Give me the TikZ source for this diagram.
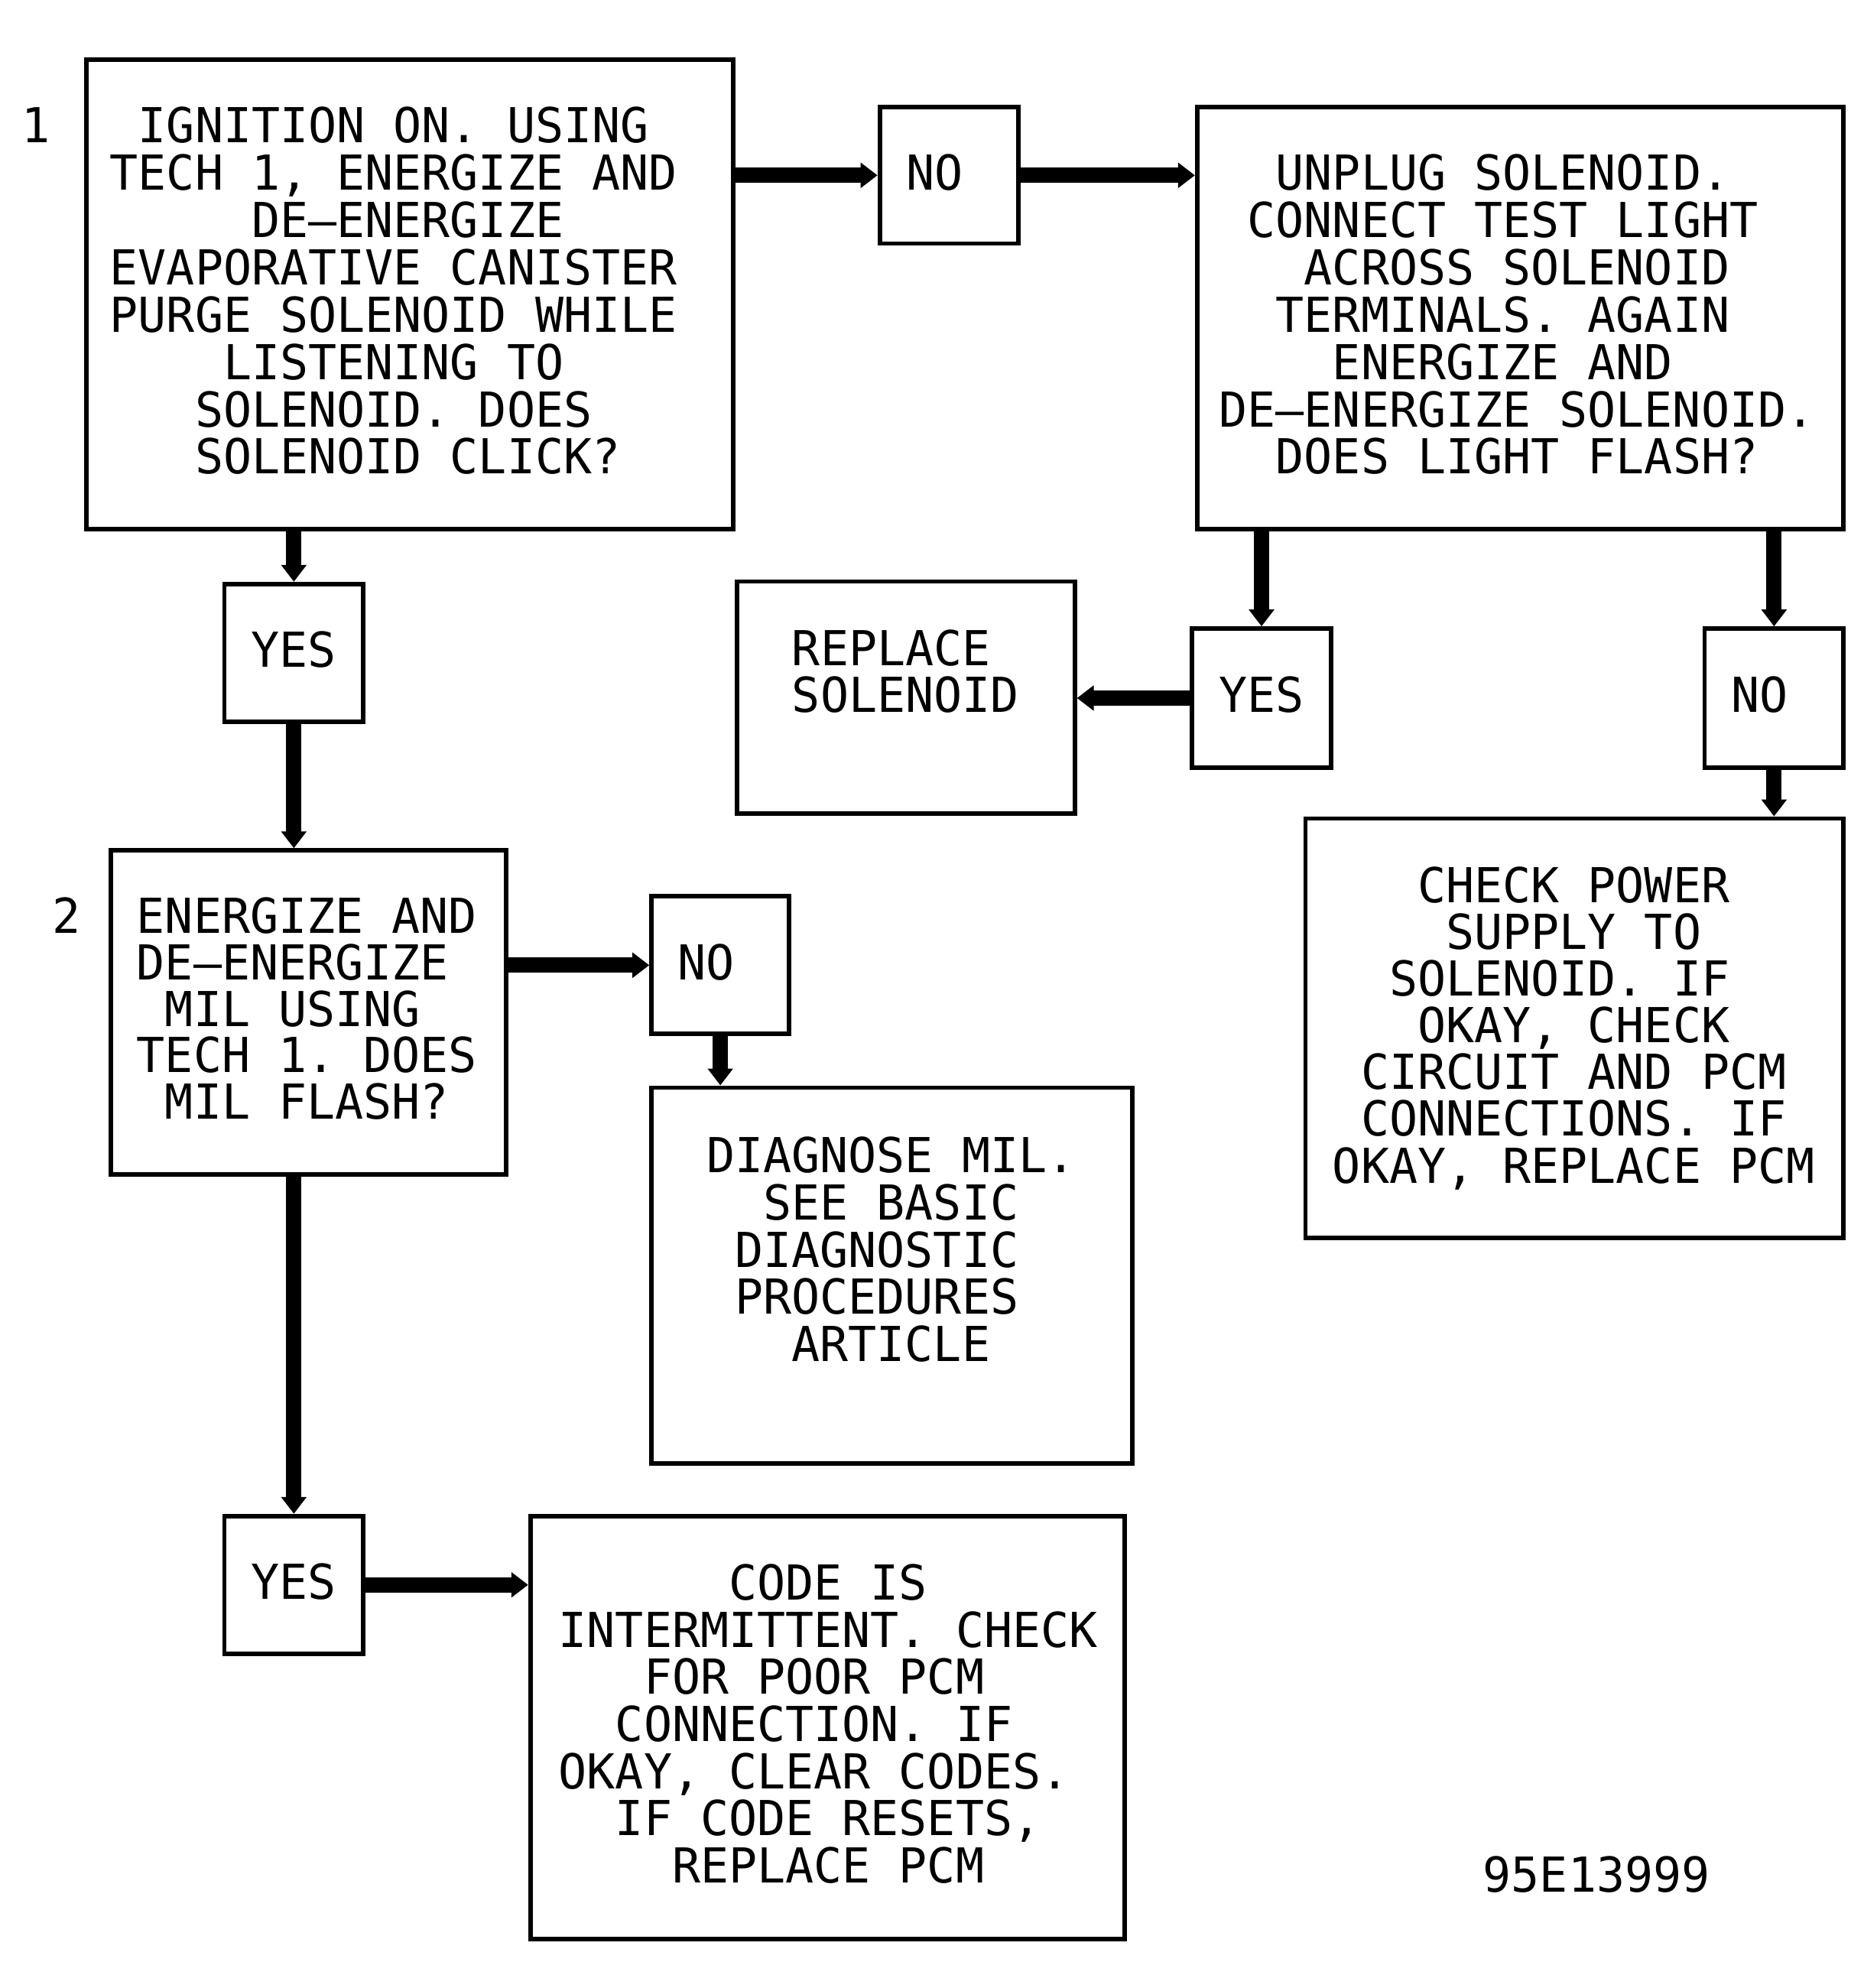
\documentclass[tikz,border=0pt]{standalone}
\usepackage{fontspec}
\newfontfamily\plotfont[FakeStretch=0.978]{DejaVu Sans Mono}
\usetikzlibrary{arrows.meta,fit}
\newcommand\blk[2]{\vtop{\baselineskip=#1\lineskiplimit=-100pt\relax#2}}
\newcommand\tln[1]{\hbox{#1}}
\newcommand\pad[1]{\hphantom{#1}}
\begin{document}
\begin{tikzpicture}[x=0.8338pt,y=-0.8338pt,
  every node/.style={font=\plotfont\fontsize{31.5pt}{31pt}\selectfont\frenchspacing},
  box/.style={draw, line width=2.9pt, inner sep=0pt},
  txt/.style={inner sep=0pt, anchor=base west},
  lbl/.style={inner sep=0pt, anchor=center},
  arr/.style={line width=10pt, -{Triangle[length=11pt,width=16pt]}}]
\useasboundingbox (0,0) rectangle (1462,1559.2);

% boxes
\node[box, fit={(68,47) (575,415)}] (b1) {};
\node[box, fit={(690,84) (799,191)}] (no1) {};
\node[box, fit={(939,84) (1446,415)}] (b3) {};
\node[box, fit={(935,493) (1044,602)}] (yes2) {};
\node[box, fit={(578,456) (843,638)}] (rep) {};
\node[box, fit={(1337,493) (1446,602)}] (no2) {};
\node[box, fit={(1024,642) (1446,971)}] (chk) {};
\node[box, fit={(176,458) (285,566)}] (yes1) {};
\node[box, fit={(87,667) (397,921)}] (b2) {};
\node[box, fit={(511,703) (619,811)}] (no3) {};
\node[box, fit={(511,853) (888,1148)}] (diag) {};
\node[box, fit={(176,1189) (285,1297)}] (yes3) {};
\node[box, fit={(416,1189) (882,1521)}] (code) {};

% short answers
\node[lbl] (no1t) at ([yshift=2pt]no1.center) {NO\pad{X}};
\node[lbl] (yes2t) at ([yshift=2pt]yes2.center) {YES};
\node[lbl] (no2t) at ([yshift=2pt]no2.center) {NO\pad{X}};
\node[lbl] (yes1t) at ([yshift=2pt]yes1.center) {YES};
\node[lbl] (no3t) at ([yshift=2pt]no3.center) {NO\pad{X}};
\node[lbl] (yes3t) at ([yshift=2pt]yes3.center) {YES};

% texts
\node[txt] (n1) at (17,111.8) {1};
\node[txt] (n2) at (41,731.8) {2};
\node[txt] (t1) at (86,111.8) {\blk{30.97pt}{%
  \tln{\pad{X}IGNITION ON. USING}
  \tln{TECH 1, ENERGIZE AND}
  \tln{\pad{XXXXX}DE–ENERGIZE}
  \tln{EVAPORATIVE CANISTER}
  \tln{PURGE SOLENOID WHILE}
  \tln{\pad{XXXX}LISTENING TO}
  \tln{\pad{XXX}SOLENOID. DOES}
  \tln{\pad{XXX}SOLENOID CLICK?}}};
\node[txt] (t3) at (956,148.8) {\blk{30.99pt}{%
  \tln{\pad{XX}UNPLUG SOLENOID.}
  \tln{\pad{X}CONNECT TEST LIGHT}
  \tln{\pad{XXX}ACROSS SOLENOID}
  \tln{\pad{XX}TERMINALS. AGAIN}
  \tln{\pad{XXXX}ENERGIZE AND}
  \tln{DE–ENERGIZE SOLENOID.}
  \tln{\pad{XX}DOES LIGHT FLASH?}}};
\node[txt] (trep) at (621,521.8) {\blk{30.85pt}{%
  \tln{REPLACE}
  \tln{SOLENOID}}};
\node[txt] (tchk) at (1045,707.8) {\blk{30.57pt}{%
  \tln{\pad{XXX}CHECK POWER}
  \tln{\pad{XXXX}SUPPLY TO}
  \tln{\pad{XX}SOLENOID. IF}
  \tln{\pad{XXX}OKAY, CHECK}
  \tln{\pad{X}CIRCUIT AND PCM}
  \tln{\pad{X}CONNECTIONS. IF}
  \tln{OKAY, REPLACE PCM}}};
\node[txt] (t2) at (107,731.8) {\blk{30.43pt}{%
  \tln{ENERGIZE AND}
  \tln{DE–ENERGIZE}
  \tln{\pad{X}MIL USING}
  \tln{TECH 1. DOES}
  \tln{\pad{X}MIL FLASH?}}};
\node[txt] (tdiag) at (554,919.8) {\blk{30.85pt}{%
  \tln{DIAGNOSE MIL.}
  \tln{\pad{XX}SEE BASIC}
  \tln{\pad{X}DIAGNOSTIC}
  \tln{\pad{X}PROCEDURES}
  \tln{\pad{XXX}ARTICLE}}};
\node[txt] (tcode) at (438,1254.8) {\blk{30.85pt}{%
  \tln{\pad{XXXXXX}CODE IS}
  \tln{INTERMITTENT. CHECK}
  \tln{\pad{XXX}FOR POOR PCM}
  \tln{\pad{XX}CONNECTION. IF}
  \tln{OKAY, CLEAR CODES.}
  \tln{\pad{XX}IF CODE RESETS,}
  \tln{\pad{XXXX}REPLACE PCM}}};
\node[txt] (fig) at (1163,1483.8) {95E13999};

% connectors
\draw[arr] (b1.east |- no1.west) -- (no1.west);
\draw[arr] (no1.east) -- (b3.west |- no1.east);
\draw[arr] (yes2.north |- b3.south) -- (yes2.north);
\draw[arr] (no2.north |- b3.south) -- (no2.north);
\draw[arr] (yes2.west) -- (rep.east |- yes2.west);
\draw[arr] (no2.south) -- (no2.south |- chk.north);
\draw[arr] (yes1.north |- b1.south) -- (yes1.north);
\draw[arr] (yes1.south) -- (yes1.south |- b2.north);
\draw[arr] (b2.east |- no3.west) -- (no3.west);
\draw[arr] (no3.south) -- (no3.south |- diag.north);
\draw[arr] (yes3.north |- b2.south) -- (yes3.north);
\draw[arr] (yes3.east) -- (code.west |- yes3.east);
\end{tikzpicture}
\end{document}
